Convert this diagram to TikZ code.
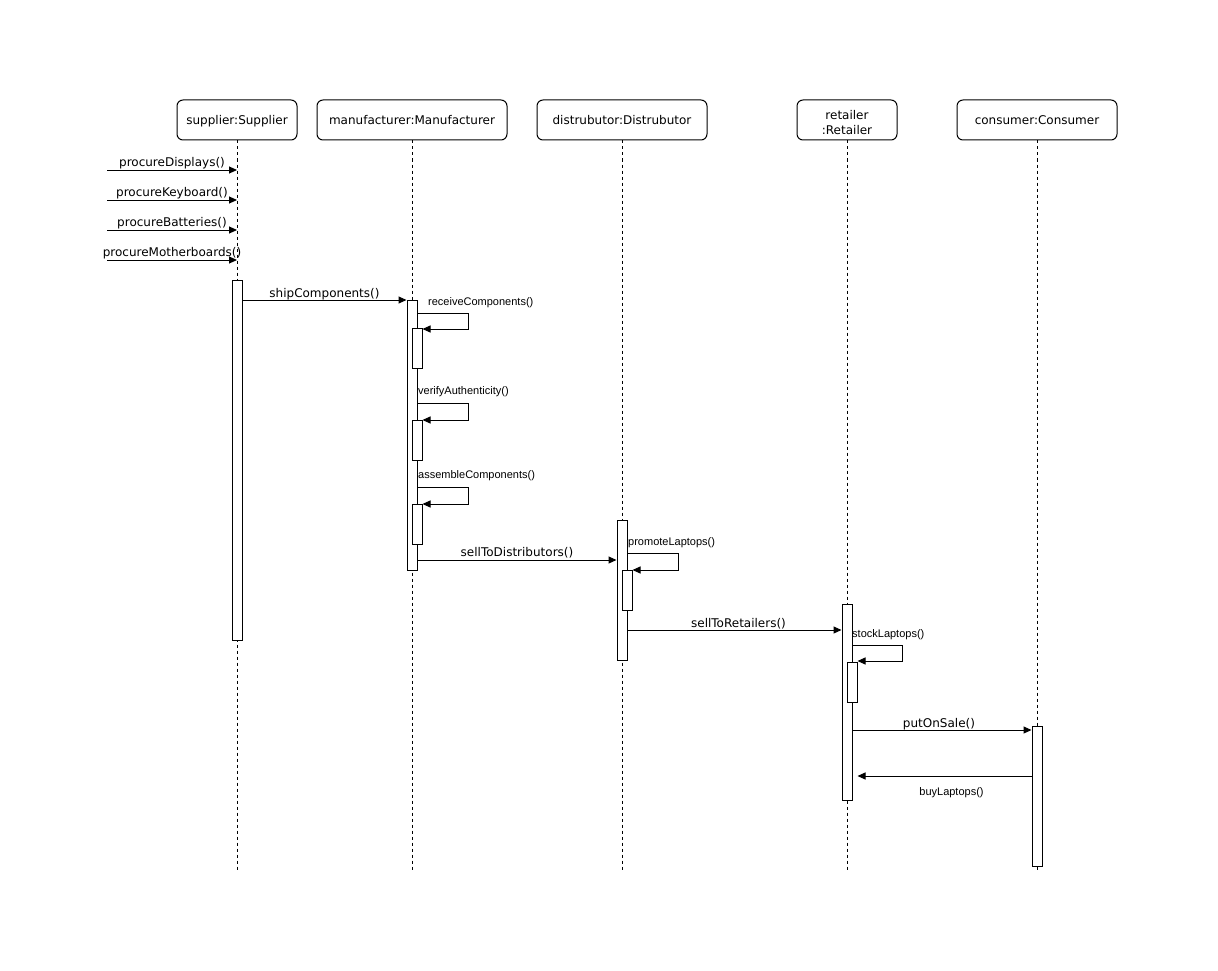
\documentclass[tikz,border=0pt]{standalone}
\usepackage{fontspec}
\newfontfamily\dejavufam{DejaVu Sans}
\newfontfamily\libsansfam{Liberation Sans}
\usetikzlibrary{arrows.meta}
\begin{document}
\begin{tikzpicture}[x=1pt,y=-1pt,
 head/.style={draw, line width=1pt, rounded corners=6pt, minimum height=40pt, inner sep=0pt, font=\dejavufam\fontsize{12}{15}\selectfont, align=center, fill=white},
 headone/.style={head, text height=13pt, text depth=3pt},
 headtext/.style={font=\dejavufam\fontsize{12}{15}\selectfont, align=center, inner sep=0pt},
 act/.style={draw, line width=1pt, fill=white, minimum width=10pt, inner sep=0pt},
 life/.style={line width=1pt, dash pattern=on 3pt off 3pt},
 msg/.style={line width=1pt, -{Triangle[length=8pt,width=7pt]}},
 lbl/.style={font=\dejavufam\fontsize{12}{14}\selectfont, inner sep=0pt},
 slbl/.style={font=\libsansfam\fontsize{11}{13}\selectfont, inner sep=0pt}]
\useasboundingbox[fill=white] (0,0) rectangle (1218,971);

% heads
\node[headone, minimum width=120pt] (sup) at (237,120) {supplier:Supplier};
\node[headone, minimum width=190pt] (man) at (412,120) {manufacturer:Manufacturer};
\node[headone, minimum width=170pt] (dis) at (622,120) {distrubutor:Distrubutor};
\node[head, minimum width=100pt] (ret) at (847,120) {};
\node[headtext, yshift=-3pt] (rettxt) at (ret.center) {retailer\\:Retailer};
\node[headone, minimum width=160pt] (con) at (1037,120) {consumer:Consumer};

% lifeline ends
\coordinate (supE) at (237,870);
\coordinate (manE) at (412,870);
\coordinate (disE) at (622,870);
\coordinate (retE) at (847,870);
\coordinate (conE) at (1037,870);
\draw[life] (sup.south) -- (supE);
\draw[life] (man.south) -- (manE);
\draw[life] (dis.south) -- (disE);
\draw[life] (ret.south) -- (retE);
\draw[life] (con.south) -- (conE);

% activations
\node[act, minimum height=360pt] (sa) at (237,460) {};
\node[act, minimum height=270pt] (ma) at (412,435) {};
\node[act, minimum height=40pt] (mn1) at (417,348) {};
\node[act, minimum height=40pt] (mn2) at (417,440) {};
\node[act, minimum height=40pt] (mn3) at (417,524) {};
\node[act, minimum height=140pt] (da) at (622,590) {};
\node[act, minimum height=40pt] (dn1) at (627,590) {};
\node[act, minimum height=196pt] (ra) at (847,702) {};
\node[act, minimum height=40pt] (rn1) at (852,682) {};
\node[act, minimum height=140pt] (ca) at (1037,796) {};

% incoming procure messages
\coordinate (p1) at (107,170);
\coordinate (p2) at (107,200);
\coordinate (p3) at (107,230);
\coordinate (p4) at (107,260);
\draw[msg] (p1) -- (supE |- p1) node[lbl, midway, yshift=6.5pt] {procureDisplays()};
\draw[msg] (p2) -- (supE |- p2) node[lbl, midway, yshift=6.5pt] {procureKeyboard()};
\draw[msg] (p3) -- (supE |- p3) node[lbl, midway, yshift=6.5pt] {procureBatteries()};
\draw[msg] (p4) -- (supE |- p4) node[lbl, midway, yshift=6.5pt] {procureMotherboards()};

% shipComponents
\draw[msg] (sa.east |- 0,300) -- (ma.west |- 0,300) node[lbl, midway, yshift=5.5pt] {shipComponents()};

% self calls manufacturer
\draw[msg] (ma.east |- 0,313) -- (468,313) -- (468,329) -- (mn1.east |- 0,329);
\node[slbl, anchor=west] (lrc) at (428,303) {receiveComponents()};
\draw[msg] (ma.east |- 0,403) -- (468,403) -- (468,420) -- (mn2.east |- 0,420);
\node[slbl, anchor=west] (lva) at (418,392) {verifyAuthenticity()};
\draw[msg] (ma.east |- 0,487) -- (468,487) -- (468,504) -- (mn3.east |- 0,504);
\node[slbl, anchor=west] (lac) at (418,476) {assembleComponents()};

% sellToDistributors
\draw[msg] (ma.east |- 0,560) -- (da.west |- 0,560) node[lbl, midway, yshift=7pt] {sellToDistributors()};

% promoteLaptops
\draw[msg] (da.east |- 0,553) -- (678,553) -- (678,570) -- (dn1.east |- 0,570);
\node[slbl, anchor=west] (lpl) at (628,543) {promoteLaptops()};

% sellToRetailers
\draw[msg] (da.east |- 0,630) -- (ra.west |- 0,630) node[lbl, midway, yshift=6pt, xshift=4pt] {sellToRetailers()};

% stockLaptops
\draw[msg] (ra.east |- 0,645) -- (902,645) -- (902,661) -- (rn1.east |- 0,661);
\node[slbl, anchor=west] (lsl) at (852,635) {stockLaptops()};

% putOnSale
\draw[msg] (ra.east |- 0,730) -- (ca.west |- 0,730) node[lbl, midway, yshift=6pt, xshift=-3pt] {putOnSale()};

% buyLaptops
\draw[msg] (ca.west |- 0,776) -- (rn1.east |- 0,776) node[slbl, midway, yshift=-17pt, xshift=7pt] {buyLaptops()};
\end{tikzpicture}
\end{document}
